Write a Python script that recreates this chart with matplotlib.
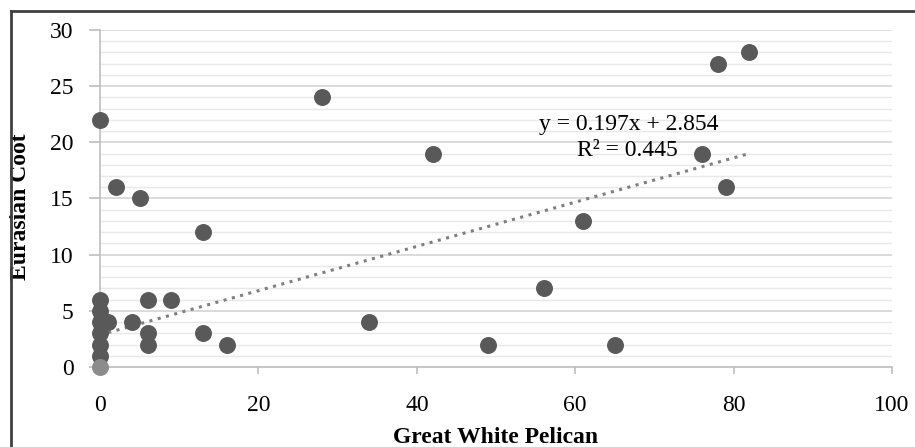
import numpy as np
import matplotlib.pyplot as plt
from matplotlib.lines import Line2D
from matplotlib.ticker import MultipleLocator

# Counts per site: Great White Pelican (x) vs Eurasian Coot (y)
pelican = [0, 0, 0, 0, 0, 0, 0, 1, 4, 2, 5, 13, 6, 6, 6, 9, 13, 16,
           28, 34, 42, 49, 56, 61, 65, 76, 78, 79, 82]
coot = [22, 6, 5, 4, 3, 2, 1, 4, 4, 16, 15, 12, 6, 3, 2, 6, 3, 2,
        24, 4, 19, 2, 7, 13, 2, 19, 27, 16, 28]
zero_x, zero_y = [0], [0]

# Linear trendline coefficients
slope, intercept, r2 = 0.197, 2.854, 0.445

plt.rcParams['font.family'] = ['Liberation Serif', 'DejaVu Serif']

fig = plt.figure(figsize=(9.15, 4.47), dpi=100)
ax = fig.add_axes([0.1093, 0.179, 0.8656, 0.754])

ax.set_xlim(0, 100)
ax.set_ylim(0, 30)
ax.xaxis.set_major_locator(MultipleLocator(20))
ax.yaxis.set_major_locator(MultipleLocator(5))
ax.yaxis.set_minor_locator(MultipleLocator(1))

ax.grid(True, which='major', axis='y', color='#d4d4d4', linewidth=1.2)
ax.grid(True, which='minor', axis='y', color='#e8e8e8', linewidth=1.0)
ax.set_axisbelow(True)

for side in ['top', 'right']:
    ax.spines[side].set_visible(False)
for side in ['left', 'bottom']:
    ax.spines[side].set_color('#bfbfbf')
    ax.spines[side].set_linewidth(1.2)

ax.tick_params(axis='y', which='major', length=8, width=1.2, color='#bfbfbf',
               pad=11, labelsize=17)
ax.tick_params(axis='y', which='minor', length=0)
ax.tick_params(axis='x', which='major', length=5, width=1.2, color='#bfbfbf',
               pad=15, labelsize=17)

ax.scatter(pelican, coot, s=125, color='#595959', zorder=3, clip_on=False)
ax.scatter(zero_x, zero_y, s=125, color='#8c8c8c', zorder=3, clip_on=False)

xs = np.array([min(pelican), max(pelican)])
ax.plot(xs, slope * xs + intercept, linestyle=(0, (1, 1.8)), color='#7f7f7f',
        linewidth=2.2, zorder=2)

ax.text(66.8, 21.6, f'y = {slope}x + {intercept}', fontsize=17, ha='center',
        va='center')
ax.text(66.6, 19.3, f'R² = {r2}', fontsize=17, ha='center', va='center')

ax.set_xlabel('Great White Pelican', fontsize=17, fontweight='bold')
ax.xaxis.set_label_coords(0.5, -0.21)
ax.xaxis.label.set_va('center')
ax.set_ylabel('Eurasian Coot', fontsize=17, fontweight='bold')
ax.yaxis.set_label_coords(-0.1, 0.475)
ax.yaxis.label.set_va('center')

# Chart border (left and top edges)
fig.add_artist(Line2D([0.0115, 0.0115], [0, 0.975], transform=fig.transFigure,
                      color='#404040', linewidth=2))
fig.add_artist(Line2D([0.0115, 1], [0.975, 0.975], transform=fig.transFigure,
                      color='#404040', linewidth=2))

fig.savefig('out.png', dpi=100)
